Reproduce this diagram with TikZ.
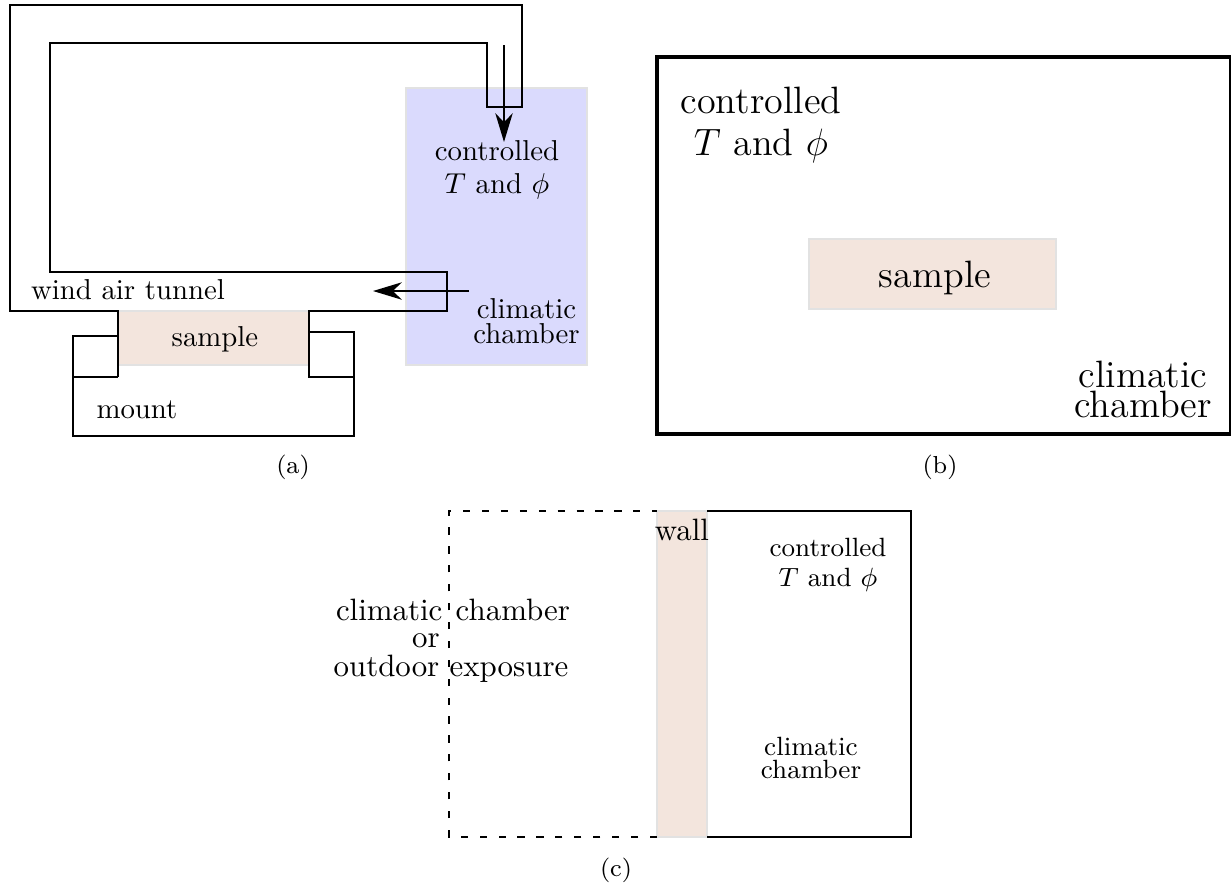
\RequirePackage{fix-cm}
\documentclass[tikz,border=0pt]{standalone}
\usepackage{fontspec}
\usepackage{amsmath}
\usetikzlibrary{positioning,arrows.meta}
\definecolor{chamberblue}{HTML}{DADAFD}
\definecolor{samplebrown}{HTML}{F3E5DD}
\definecolor{edgegray}{HTML}{E2E2E2}
\tikzstyle{wall} = [draw, line width=0.65pt, line join=miter]
\tikzstyle{flow} = [draw, line width=0.65pt, -{Stealth[length=9.6pt,width=5.8pt,inset=3pt]}]
\tikzstyle{chamber} = [fill=chamberblue, draw=edgegray, line width=0.5pt]
\tikzstyle{sample} = [fill=samplebrown, draw=edgegray, line width=0.5pt]
\tikzstyle{txta} = [inner sep=0pt, font=\fontsize{9.6}{8.4}\selectfont, align=center]
\tikzstyle{txtb} = [inner sep=0pt, font=\fontsize{12.7}{10}\selectfont, align=center]
\tikzstyle{txtc} = [inner sep=0pt, font=\fontsize{10.3}{9}\selectfont, align=center]
\tikzstyle{txtd} = [inner sep=0pt, font=\fontsize{8.8}{7.4}\selectfont, align=center]
\tikzstyle{caption} = [inner sep=0pt, font=\fontsize{8.2}{9}\selectfont]

\begin{document}
\begin{tikzpicture}[x=0.3333pt, y=-0.3333pt]
	\useasboundingbox (0,0) rectangle (1231,885);
	% panel a
	\path[chamber] (406,88) rectangle (587,365);
	\path[sample] (118,311) rectangle (309,365);
	\draw[wall] (118,377) -- (118,311) -- (10,311) -- (10,5) -- (522,5) -- (522,107) -- (487,107) -- (487,43) -- (50,43) -- (50,272) -- (447,272) -- (447,311) -- (309,311) -- (309,377) -- (354,377);
	\draw[wall] (118,336) -- (73,336) -- (73,436) -- (354,436) -- (354,332) -- (309,332);
	\draw[wall] (73,377) -- (118,377);
	\coordinate (inlet) at (504,45);
	\coordinate (inletend) at (504,142);
	\coordinate (outlet) at (469,291);
	\coordinate (outletend) at (373,291);
	\draw[flow] (inlet) -- (inletend);
	\draw[flow] (outlet) -- (outletend);
	\node[txta] (ctrla) at (497,170) {controlled\\[2.6pt]$T$ and $\phi$};
	\node[txta] (clima) at (526.5,321) {climatic\\chamber};
	\node[txta] (tunnel) at (128,290) {wind air tunnel};
	\node[txta] (samplea) at (215,339) {sample};
	\node[txta] (mount) at (137,410) {mount};
	\node[caption] (capa) at (293,467) {(a)};
	% panel b
	\draw[line width=1.1pt] (657,57) -- (1231,57) -- (1231,434) -- (657,434) -- cycle;
	\path[sample] (809,239) rectangle (1056,309);
	\node[txtb] (ctrlb) at (761,125) {controlled\\[4.2pt]$T$ and $\phi$};
	\node[txtb] (sampleb) at (935,278) {sample};
	\node[txtb] (climb) at (1143,389) {climatic\hspace{2.5pt}\\chamber};
	\node[caption] (capb) at (940,467) {(b)};
	% panel c
	\path[sample] (657,511) rectangle (707,837);
	\draw[wall, dash pattern=on 2.4pt off 3.9pt] (657,837) -- (449,837) -- (449,511) -- (657,511);
	\draw[wall] (707,511) -- (911,511) -- (911,837) -- (707,837);
	\node[txtc] (wall) at (682,530) {wall};
	\node[txtd] (ctrlc) at (828,565) {controlled\\[2.4pt]$T$ and $\phi$};
	\node[txtd] (climc) at (811,758) {climatic\\chamber};
	\node[txtc] (climl) at (453,610) {climatic\hspace{1pt} chamber};
	\node[txtc] (or) at (426,641) {or};
	\node[txtc] (outl) at (451,669) {outdoor exposure};
	\node[caption] (capc) at (616,870) {(c)};
\end{tikzpicture}
\end{document}
